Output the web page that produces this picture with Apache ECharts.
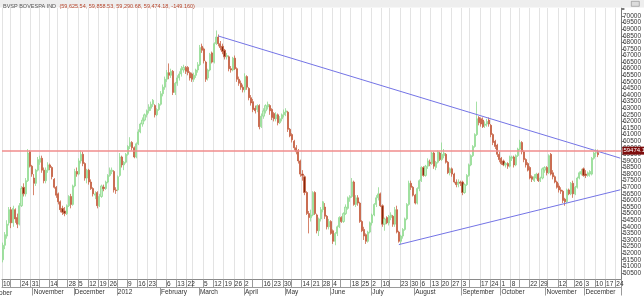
<!DOCTYPE html>
<html><head><meta charset="utf-8">
<script src="https://cdn.jsdelivr.net/npm/echarts@6/dist/echarts.min.js"></script>
<style>html,body{margin:0;padding:0;background:#fff}#c{width:644px;height:296px}</style>
</head><body><div id="c"></div>
<script>
const symbolName = 'BVSP BOVESPA IND';
// trading days (categories), by month; last three December days are empty future slots
const tradingDays = {
  '2011-10': [10,11,13,14,17,18,19,20,21,24,25,26,27,28,31],
  '2011-11': [1,3,4,7,8,9,10,11,14,16,17,18,21,22,23,24,25,28,29,30],
  '2011-12': [1,2,5,6,7,8,9,12,13,14,15,16,19,20,21,22,23,26,27,28,29],
  '2012-01': [2,3,4,5,6,9,10,11,12,13,16,17,18,19,20,23,24,26,27,30,31],
  '2012-02': [1,2,3,6,7,8,9,10,13,14,15,16,17,22,23,24,27,28,29],
  '2012-03': [1,2,5,6,7,8,9,12,13,14,15,16,19,20,21,22,23,26,27,28,29,30],
  '2012-04': [2,3,4,5,9,10,11,12,13,16,17,18,19,20,23,24,25,26,27,30],
  '2012-05': [2,3,4,7,8,9,10,11,14,15,16,17,18,21,22,23,24,25,28,29,30,31],
  '2012-06': [1,4,5,6,8,11,12,13,14,15,18,19,20,21,22,25,26,27,28,29],
  '2012-07': [2,3,4,5,6,10,11,12,13,16,17,18,19,20,23,24,25,26,27,30,31],
  '2012-08': [1,2,3,6,7,8,9,10,13,14,15,16,17,20,21,22,23,24,27,28,29,30,31],
  '2012-09': [3,4,5,6,10,11,12,13,14,17,18,19,20,21,24,25,26,27,28],
  '2012-10': [1,2,3,4,5,8,9,10,11,15,16,17,18,19,22,23,24,25,26,29,30,31],
  '2012-11': [1,5,6,7,8,9,12,13,14,16,19,21,22,23,26,27,28,29,30],
  '2012-12': [3,4,5,6,7,10,11,12,13,14,17,18,19,20,21,24,25,26]
};
// daily candles [open, close, low, high]
const oct2011 = [[51500,52600,51300,52800],[52600,53400,52300,53600],[53300,54200,53100,54500],[54300,55300,54100,55500],[55300,54300,53900,55500],[54300,55400,54000,55600],[55300,54600,54300,55400],[54700,54200,53900,55000],[54200,55600,54100,55800],[55600,56900,55500,57100],[57000,56500,56300,57300],[56500,57500,56300,57700],[57500,59600,57400,59900],[59700,58600,58500,59800],[58600,58000,57800,58700]];
const nov2011 = [[57700,57300,56400,58000],[57300,58300,57100,58400],[58300,59100,58200,59300],[58900,59200,58700,59400],[59200,58300,58100,59400],[58300,57500,57300,58500],[57500,58300,57300,58500],[58300,58700,58100,58900],[58700,58500,58300,58800],[58500,57800,57600,58600],[57600,57000,56900,57700],[57000,56400,56200,57100],[56500,55900,55700,56600],[55900,55300,55100,56000],[55400,55100,54900,55600],[55200,55000,54800,55500],[55000,55600,54900,55700],[55600,56300,55500,56400],[56300,55700,55400,56500],[55700,57100,55600,57200]];
const dec2011 = [[57100,58200,57000,58400],[58200,58000,57800,58500],[58000,59000,57900,59200],[59000,59500,58800,59800],[59500,58800,58600,59700],[58800,57700,57500,58900],[57700,58300,57300,58400],[58300,57400,57200,58400],[57400,56900,56800,57600],[56900,56500,56300,57000],[56400,56500,56100,56700],[56600,55600,55400,56700],[55600,56300,55500,56500],[56300,57100,56200,57200],[57000,56900,56700,57200],[56900,57400,56800,57500],[57400,57900,57300,58000],[57900,58300,57800,58500],[58200,58300,58000,58500],[58200,56800,56600,58300],[56800,56750,56500,57000]];
const jan2012 = [[56800,57800,56700,57900],[57900,59300,57800,59600],[59300,58700,58500,59400],[58700,58900,58300,59000],[58900,59500,58800,59600],[59500,60100,59400,60200],[60100,60400,59900,60800],[60400,60000,59800,60500],[60000,59300,59200,60100],[59300,60300,59200,60400],[60300,61200,60200,61400],[61200,61800,61100,61900],[61800,62100,61600,62300],[62100,62500,62000,62600],[62500,62800,62300,62900],[62800,63100,62600,63300],[63000,63300,62800,63500],[63300,63600,63100,63700],[63200,62500,62300,63300],[62500,62900,62400,63000],[62900,63300,62800,63400]];
const feb2012 = [[63300,64100,63200,64300],[64100,64600,63900,64800],[64600,65200,64400,65400],[65200,65700,65000,65900],[65700,65500,65200,66400],[65500,65800,65300,66000],[65800,64200,64000,65900],[64200,64900,64000,65000],[64900,65300,64700,65500],[65300,65600,65100,65800],[65600,66000,65400,66200],[65900,66100,65700,66300],[66100,65800,65600,66200],[66100,65700,65500,66200],[65700,65300,65100,65800],[65600,65200,65000,65700],[65200,65500,65000,65700],[65500,65900,65300,66000],[65900,66300,65700,66500]];
const mar2012 = [[66300,67600,66200,67800],[67700,67400,67200,67900],[67500,66600,66400,67600],[66500,65200,65000,66600],[65300,65900,65100,66000],[65900,67100,65800,67200],[67200,66500,66400,67300],[66500,67900,66400,68000],[67900,68400,67800,68900],[68400,67900,67700,68600],[67900,67600,67400,68100],[67700,67300,67100,67900],[67400,66900,66700,67500],[66900,67000,66700,67200],[66900,66000,65800,67000],[66000,65900,65700,66200],[65900,66800,65800,66900],[66800,66000,65900,67000],[66000,65200,65000,66100],[65200,64900,64700,65400],[64900,64600,64400,65100],[64600,64400,64200,64800]];
const apr2012 = [[64400,65400,64200,65650],[65400,64600,64400,65500],[64500,63800,63600,64600],[63800,63400,63200,64000],[63500,62900,62700,63700],[63000,62800,62600,63200],[62900,63200,62700,63300],[63200,61600,61400,63300],[61600,62400,61500,62600],[62400,62800,62200,63000],[62800,63200,62600,63300],[63100,63300,62900,63500],[63200,62800,62500,63300],[62900,62300,62100,63000],[62600,62200,62000,62700],[62200,62500,62000,62700],[62500,61900,61700,62600],[61900,62200,61800,62400],[62200,62500,62000,62600],[62500,62700,62300,62900]];
const may2012 = [[62700,62800,62400,63000],[62700,61400,61200,62800],[61400,60900,60800,61500],[61000,60600,60400,61100],[60500,60000,59800,60600],[60000,59700,59500,60200],[59800,59000,58800,59900],[59000,58000,57800,59100],[58000,57900,57500,58300],[57800,56600,56400,57900],[56600,55000,54900,56700],[55000,54700,53500,55200],[54700,54900,54400,55300],[54900,56600,54800,56700],[56600,55000,54900,56700],[54900,53700,53500,55000],[53700,54600,53300,54700],[54600,55300,54400,55500],[55300,55900,55100,55950],[55500,54800,54600,55800],[54800,54000,53800,54900],[54000,54400,53800,54600]];
const jun2012 = [[54400,53500,53400,54500],[53700,52900,52700,53800],[52900,53500,52600,53600],[53500,54000,53300,54100],[54000,54700,53900,54800],[54700,54400,54300,54800],[54400,55000,54300,55100],[55000,55500,54900,55700],[55400,56200,55300,56300],[56200,56300,55900,56400],[56300,57400,56200,57700],[57400,55700,55600,57500],[55700,56200,55500,56400],[56200,55800,55600,56400],[55800,54400,54300,55900],[54400,53700,53600,54500],[53800,53300,53000,54000],[53400,52900,52700,53500],[52900,53600,52800,53700],[53600,54300,53500,54400]];
const jul2012 = [[54300,54900,54100,55000],[54900,55700,54800,55800],[55700,56200,55500,56400],[56200,56500,56000,57000],[56500,55600,55500,56600],[55600,54200,54000,55700],[54200,54600,53700,54700],[54700,54300,54200,54800],[54300,54800,54100,54900],[54700,54900,54500,55100],[54800,54200,54000,54900],[54200,55300,54000,55500],[55300,53600,53500,55600],[53600,52900,52800,53700],[52900,53300,52700,53400],[53300,53800,53100,53900],[53800,54600,53700,54700],[54600,55700,54500,55800],[55700,57300,55600,57500],[57300,57000,56800,57500],[57000,56400,56300,57100]];
const aug2012 = [[56400,55800,55700,56500],[55800,56900,55700,57000],[56900,57500,56700,57600],[57500,58500,57400,58600],[58500,57900,57800,58600],[57900,58600,57800,58700],[58600,59000,58400,59200],[58900,58800,58600,59100],[58800,59600,58700,59700],[59600,58600,58400,59700],[58500,58900,58300,59000],[58900,59700,58800,59800],[59600,59100,59000,59700],[59100,59500,59000,60400],[59400,59600,59200,59900],[59500,58900,58800,59600],[58900,58100,58000,59000],[58100,58400,57900,58500],[58400,58000,57800,58500],[58000,57400,57300,58100],[57400,57200,57000,57600],[57200,57400,57000,57600],[57400,57300,57100,57500]];
const sep2012 = [[57400,56600,56400,57500],[56600,57200,56500,57300],[57200,57900,57100,58000],[57900,58700,57800,58800],[58700,59400,58600,59500],[59400,60100,59300,60200],[60100,61000,60000,61100],[61000,62200,60900,63500],[62300,61900,61700,62400],[62200,61800,61600,62300],[62100,61600,61500,62300],[61700,61800,61500,62000],[61800,62000,61600,62200],[62100,61800,61600,62300],[61700,61000,60800,61800],[61000,60400,60200,61100],[60500,60100,59900,60600],[60200,59500,59300,60300],[59500,59100,58900,59700]];
const oct2012 = [[59200,58800,58700,59300],[59000,58700,58600,59100],[58700,58800,58500,58900],[58800,58600,58400,58900],[58600,59300,58500,59400],[59200,59300,59000,59400],[59300,58700,58500,59400],[58700,59400,58600,59500],[59400,59900,59300,60000],[59900,60400,59800,60600],[60400,59700,59500,60500],[59700,59100,58900,59800],[59100,58700,58500,59200],[58800,58300,58200,58900],[58500,57700,57600,58600],[57800,57600,57400,57900],[57500,57800,57400,58000],[57700,58000,57600,58100],[58000,57500,57400,58100],[57500,57700,57400,57800],[57700,58400,57600,58500],[58300,58500,58100,58600]];
const nov2012 = [[58500,58100,57900,58600],[58100,59400,58000,59500],[59500,58000,57900,59600],[58100,57800,57600,58300],[57800,57400,57300,57900],[57400,57000,56900,57500],[57100,56800,56600,57300],[56800,56700,56500,57000],[56700,56000,55800,56800],[56100,55900,55600,56200],[55900,56800,55800,56900],[56800,56500,56400,56900],[56500,57300,56400,57400],[57300,56500,56200,57500],[56500,57000,56400,57100],[57000,57700,56900,57800],[57700,58100,57600,58200],[58000,58200,57900,58400],[58400,57900,57800,58500]];
const dec2012 = [[58000,57900,57700,58300],[57900,58100,57800,58200],[58000,58200,57800,58300],[58000,59200,57900,59300],[59200,59600,59100,59700],[59600,59623.34,59300,59900],[59625.54,59474.18,59290.68,59858.53]];
// drawn studies
const upperTrend = [['2012-03-14', 68480], ['2012-12-26', 59207]];
const lowerTrend = [['2012-07-20', 52650], ['2012-12-26', 56810]];
const resistanceLevel = 59780;
const monthNames = ['January','February','March','April','May','June','July','August','September','October','November','December'];

const cats = [];
Object.keys(tradingDays).forEach(k => tradingDays[k].forEach(d => cats.push(k + '-' + String(d).padStart(2, '0'))));
const ohlc = [].concat(oct2011, nov2011, dec2011, jan2012, feb2012, mar2012, apr2012, may2012, jun2012, jul2012, aug2012, sep2012, oct2012, nov2012, dec2012);

function dnum(s){ const p = s.split('-').map(Number); return Date.UTC(p[0], p[1]-1, p[2]) / 86400000; }
function dow(s){ return new Date(dnum(s) * 86400000).getUTCDay(); }
const weekStart = cats.map((d, i) => i === 0 || dow(d) < dow(cats[i-1]) || dnum(d) - dnum(cats[i-1]) >= 7);
const monthStart = cats.map((d, i) => i > 0 && d.slice(0, 7) !== cats[i-1].slice(0, 7));
const dayShown = cats.map(() => false);
let lastShown = -100;
cats.forEach((d, i) => { if (weekStart[i] && i - lastShown >= 5) { dayShown[i] = true; lastShown = i; } });

function fmt(n){ return n.toFixed(2).replace(/\B(?=(\d{3})+(?!\d))/g, ','); }
const last = ohlc[ohlc.length - 1], prev = ohlc[ohlc.length - 2];
const headerVals = '(' + [last[0], last[3], last[2], last[1]].map(fmt).join(', ') + ', ' + (last[1] - prev[1]).toFixed(3) + ')';

const FONT = 'Liberation Sans';
const chart = echarts.init(document.getElementById('c'), null, {renderer: 'canvas'});
chart.setOption({
  animation: false,
  backgroundColor: '#ffffff',
  grid: {left: 1, right: 21, top: 8, bottom: 16.5},
  xAxis: [{
    type: 'category', data: cats, boundaryGap: true, position: 'bottom',
    axisLine: {lineStyle: {color: '#8a8a8a', width: 1}},
    axisTick: {show: true, interval: i => weekStart[i], length: 8, lineStyle: {color: '#9a9a9a'}},
    axisLabel: {interval: i => dayShown[i], formatter: v => String(+v.slice(8)), align: 'left', margin: 1.5,
      fontSize: 6.5, fontFamily: FONT, color: '#333'},
    splitLine: {show: true, interval: i => weekStart[i], lineStyle: {color: '#e3e3e3', width: 1}}
  }, {
    type: 'category', data: cats, boundaryGap: true, position: 'bottom', offset: 8,
    axisLine: {lineStyle: {color: '#9a9a9a', width: 1}},
    axisTick: {show: true, interval: i => monthStart[i], length: 8, lineStyle: {color: '#9a9a9a'}},
    axisLabel: {interval: i => monthStart[i], align: 'left', margin: 1.5, fontSize: 6.5, fontFamily: FONT, color: '#333',
      formatter: v => { const m = +v.slice(5, 7); return m === 1 ? v.slice(0, 4) : monthNames[m - 1]; }},
    splitLine: {show: false}
  }],
  yAxis: {
    type: 'value', position: 'right', min: 50000, max: 70607, interval: 500,
    axisLine: {show: true, lineStyle: {color: '#7a7a7a'}},
    axisTick: {show: true, length: 3, lineStyle: {color: '#7a7a7a'}},
    axisLabel: {fontSize: 6.5, fontFamily: FONT, color: '#333', margin: 1.5, formatter: v => v > 70000 ? '' : String(v)},
    splitLine: {show: false}
  },
  series: [{
    type: 'candlestick', data: ohlc, barWidth: '78%',
    itemStyle: {color: '#c6f0c6', borderColor: '#8fd98f', color0: '#86270c', borderColor0: '#cc6446', borderWidth: 0.8},
    markLine: {
      silent: true, symbol: 'none', animation: false,
      data: [{yAxis: resistanceLevel}],
      lineStyle: {color: '#f08c8c', width: 1.6, type: 'solid'},
      label: {show: true, position: 'end', distance: 1, formatter: () => last[1].toFixed(2),
        backgroundColor: '#7e0d0d', color: '#fff', fontSize: 6, fontFamily: FONT, padding: [1, 1]}
    }
  }, {
    type: 'line', data: upperTrend, symbol: 'none', silent: true,
    lineStyle: {color: '#7474e6', width: 1}
  }, {
    type: 'line', data: lowerTrend, symbol: 'none', silent: true,
    lineStyle: {color: '#7474e6', width: 1}
  }],
  graphic: [
    {type: 'rect', left: 0, top: 0, shape: {width: 644, height: 7.5}, style: {fill: '#eeeeee'}, z: 10},
    {type: 'text', left: 3, top: 0.5, z: 11, style: {
      text: '{a|' + symbolName + '} {b|' + headerVals + '}',
      rich: {a: {fontSize: 5.5, fontFamily: FONT, fill: '#555'}, b: {fontSize: 5.5, fontFamily: FONT, fill: '#b5442a'}}}},
    {type: 'rect', left: 631, top: 1, shape: {width: 8, height: 5}, style: {fill: '#dcdcdc', stroke: '#888', lineWidth: 0.6}, z: 11},
    {type: 'text', left: -11, top: 289.5, z: 11, style: {text: 'October', fontSize: 6.5, fontFamily: FONT, fill: '#333'}}
  ]
});
</script></body></html>
